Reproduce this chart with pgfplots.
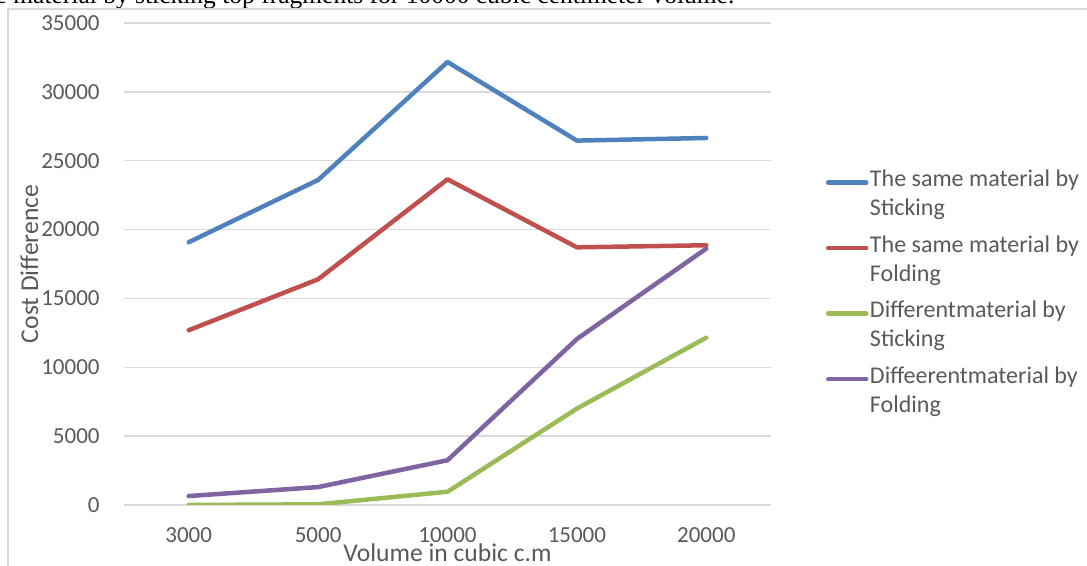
\documentclass[border=0pt]{standalone}
\usepackage{fontspec}
\setmainfont{Carlito}
\newfontfamily\serifcap{Liberation Serif}
\usepackage{pgfplots}
\pgfplotsset{compat=1.18}

\definecolor{sBlue}{HTML}{4F81BD}
\definecolor{sRed}{HTML}{C0504D}
\definecolor{sGreen}{HTML}{9BBB59}
\definecolor{sPurple}{HTML}{8064A2}
\definecolor{gridgray}{HTML}{D9D9D9}
\definecolor{txtgray}{HTML}{595959}

\newcommand{\entry}[2]{\begin{tabular}[t]{@{}l@{}}#1\\#2\end{tabular}}

\begin{document}
\begin{tikzpicture}
\useasboundingbox (0,0) rectangle (543.5pt,283pt);
\clip (0,0) rectangle (543.5pt,283pt);

% caption line of the surrounding text
\node[anchor=base west, inner sep=0pt, font=\serifcap\fontsize{12.75pt}{15pt}\selectfont]
  at (6.5pt,281pt) {\llap{e\ }material by sticking top fragments for 10000 cubic centimeter volume.};

% chart frame
\draw[gridgray, line width=0.75pt] (4pt,-20pt) rectangle (600pt,278.5pt);

\begin{axis}[
  at={(62pt,30.5pt)}, anchor=south west,
  scale only axis, width=323.5pt, height=241pt,
  xmin=-0.5, xmax=4.5, ymin=0, ymax=35000,
  xtick={0,1,2,3,4},
  xticklabels={3000,5000,10000,15000,20000},
  ytick={0,5000,...,35000},
  scaled y ticks=false,
  axis line style={draw=none},
  major tick length=0pt,
  ymajorgrids, grid style={gridgray, line width=0.75pt},
  /pgf/number format/assume math mode=true,
  /pgf/number format/1000 sep={},
  tick label style={font=\fontsize{11.5pt}{13pt}\selectfont, text=txtgray, inner sep=0pt},
  yticklabel style={anchor=east, xshift=-12pt},
  xticklabel style={anchor=north, yshift=-11pt},
  xlabel={Volume in cubic c.m},
  ylabel={Cost Difference},
  label style={font=\fontsize{12.8pt}{15pt}\selectfont, text=txtgray, inner sep=0pt},
  xlabel style={at={(axis description cs:0.5,0)}, anchor=base, yshift=-28.5pt},
  ylabel style={at={(axis description cs:-0.1329,0.5)}, anchor=base, rotate=0},
  every axis plot/.append style={line width=2.25pt, line join=round, line cap=round},
  legend image code/.code={\draw[#1, line cap=round] (0pt,6.5pt) -- (19pt,6.5pt);},
  legend cell align=left,
  legend style={at={(axis description cs:1.085,0.702)}, anchor=north west,
    draw=none, fill=none, inner sep=0pt, outer sep=0pt,
    column sep=0.75pt, row sep=3.75pt,
    nodes={inner sep=0pt, text=txtgray, text height=10.15pt, text depth=18.85pt,
      font=\fontsize{12pt}{14.5pt}\selectfont}},
]
\addplot[sBlue]   coordinates {(0,19080) (1,23600) (2,32170) (3,26460) (4,26650)};
\addplot[sRed]    coordinates {(0,12690) (1,16390) (2,23650) (3,18710) (4,18860)};
\addplot[sGreen]  coordinates {(0,0) (1,50) (2,960) (3,7000) (4,12150)};
\addplot[sPurple] coordinates {(0,650) (1,1300) (2,3250) (3,12050) (4,18620)};
\legend{\entry{The same material by}{Sticking},
        \entry{The same material by}{Folding},
        \entry{Differentmaterial by}{Sticking},
        \entry{Diffeerentmaterial by}{Folding}}
\end{axis}
\end{tikzpicture}
\end{document}
